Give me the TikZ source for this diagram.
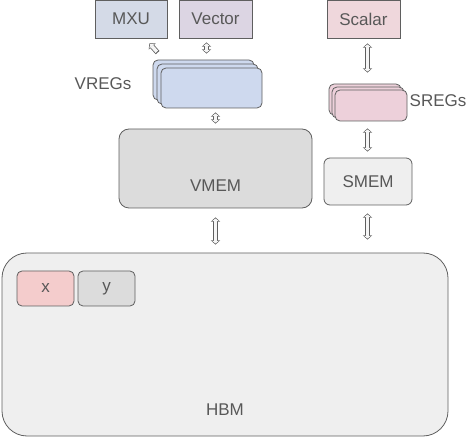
\documentclass[tikz,border=0pt]{standalone}
\usepackage{fontspec}
\setmainfont{Liberation Sans}
\usetikzlibrary{calc,arrows.meta}
\definecolor{edge}{HTML}{5F5F5F}
\definecolor{ink}{HTML}{585858}
\definecolor{mxufill}{HTML}{D4DAE7}
\definecolor{vecfill}{HTML}{DCD5E3}
\definecolor{scafill}{HTML}{EFD7DC}
\definecolor{vregfill}{HTML}{CED9EE}
\definecolor{sregfill}{HTML}{EDD0DA}
\definecolor{memfill}{HTML}{DCDCDC}
\definecolor{lightfill}{HTML}{EFEFEF}
\definecolor{xfill}{HTML}{F4CCCC}
\tikzset{
  unit/.style={draw=edge, line width=0.8pt, text=ink, font=\fontsize{17}{20}\selectfont, inner sep=0pt},
  box/.style={unit, minimum width=#1},
  regbox/.style={draw=edge, line width=0.8pt, rounded corners=5pt, inner sep=0pt},
  lbl/.style={text=ink, font=\fontsize{17}{20}\selectfont, inner sep=0pt},
  linkout/.style={draw=edge, line width=5pt, >={Triangle[length=4.2pt, width=9pt]}},
  linkin/.style={draw=black!4, line width=3.4pt, shorten <=1.1pt, shorten >=1.1pt, >={Triangle[length=2.6pt, width=6.6pt]}}
}
% hollow arrow drawn twice: outline, then light core
\def\link#1#2#3{\draw[linkout, #1] (#2) -- (#3); \draw[linkin, #1] (#2) -- (#3);}
\begin{document}
\begin{tikzpicture}[x=1pt, y=-1pt]
			%%%%% START %%%%%
			\useasboundingbox (0, 0) rectangle (474, 446);
			
			\node[box=72, minimum height=38, fill=mxufill] (mxu) at (131, 19) {MXU};
			\node[box=73, minimum height=38, fill=vecfill] (vector) at (215.5, 19) {Vector};
			\node[box=73, minimum height=38, fill=scafill] (scalar) at (363.5, 19) {Scalar};
			
			\node[regbox, fill=vregfill, minimum width=101, minimum height=40] (vregs3) at (203.5, 80) {};
			\node[regbox, fill=vregfill, minimum width=101, minimum height=40] (vregs2) at (207.5, 84) {};
			\node[regbox, fill=vregfill, minimum width=101, minimum height=40] (vregs) at (211.5, 88) {};
			\node[lbl] (vregslabel) at (103, 84) {VREGs};
			
			\node[regbox, fill=sregfill, minimum width=72, minimum height=31] (sregs3) at (365, 99.5) {};
			\node[regbox, fill=sregfill, minimum width=72, minimum height=31] (sregs2) at (368, 102.5) {};
			\node[regbox, fill=sregfill, minimum width=72, minimum height=31] (sregs) at (371, 105.5) {};
			\node[lbl] (sregslabel) at (438, 101) {SREGs};
			
			\node[regbox, rounded corners=10pt, fill=memfill, minimum width=193, minimum height=79] (vmem) at (215.5, 168.5) {};
			\node[lbl] (vmemlabel) at ([yshift=23pt]vmem.south) {VMEM};
			\node[unit, rounded corners=6pt, fill=lightfill, minimum width=88, minimum height=47] (smem) at (368, 181.5) {SMEM};
			
			\node[regbox, rounded corners=25pt, fill=lightfill, minimum width=446, minimum height=183] (hbm) at (225, 344.5) {};
			\node[lbl] (hbmlabel) at ([yshift=27pt]hbm.south) {HBM};
			\node[unit, rounded corners=5pt, fill=xfill, minimum width=57, minimum height=35] (xbuf) at (45.5, 288.5) {x};
			\node[unit, rounded corners=5pt, fill=memfill, minimum width=57, minimum height=35] (ybuf) at (106.5, 288.5) {y};
			
			\link{<-}{$(mxu.south east)+(-18, 5)$}{$(vregs3.north west)+(5, -7)$}
			\link{<->}{$(vector.south)+(-9, 4)$}{$(vregs3.north)+(3, -6)$}
			\link{<->}{$(scalar.south)+(4, 5)$}{$(sregs3.north)+(2.5, -11)$}
			\link{<->}{$(vregs.south)+(4, 4)$}{$(vmem.north)+(0, -5)$}
			\link{<->}{$(sregs.south)+(-3.5, 7)$}{$(smem.north)+(-0.5, -6)$}
			\link{<->}{$(vmem.south)+(0, 9)$}{$(hbm.north)+(-9.5, -8)$}
			\link{<->}{$(smem.south)+(-0.5, 8)$}{$(hbm.north)+(142.5, -13)$}
			
			%%%%% END %%%%%
\end{tikzpicture}
\end{document}
